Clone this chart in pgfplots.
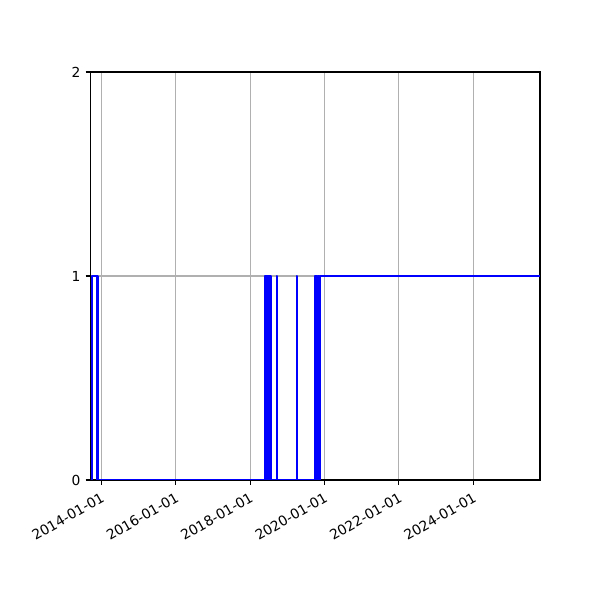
\documentclass[border=0pt]{standalone}
\usepackage{fontspec}
\setmainfont{DejaVu Sans}
\usepackage{pgfplots}
\pgfplotsset{compat=1.18}
\usepackage{pgfplotstable}
\usepgfplotslibrary{dateplot}
\definecolor{gridgray}{HTML}{B0B0B0}
\definecolor{mplblue}{HTML}{0000FF}

% change points: the value holds until the next date
\pgfplotstableread{
date value
2013-09-17 0
2013-09-29 1
2013-11-25 0
2018-05-24 1
2018-05-26 0
2018-05-28 1
2018-05-30 0
2018-06-01 1
2018-06-03 0
2018-06-05 1
2018-06-08 0
2018-06-10 1
2018-06-13 0
2018-06-15 1
2018-06-18 0
2018-06-20 1
2018-06-23 0
2018-06-25 1
2018-06-28 0
2018-06-30 1
2018-07-03 0
2018-07-05 1
2018-07-08 0
2018-07-10 1
2018-07-13 0
2018-07-15 1
2018-07-18 0
2018-07-20 1
2018-07-22 0
2018-09-21 1
2018-09-22 0
2019-04-03 1
2019-04-04 0
2019-10-03 1
2019-10-06 0
2019-10-09 1
2019-10-12 0
2019-10-15 1
2019-10-18 0
2019-10-21 1
2019-10-24 0
2019-10-27 1
2019-10-30 0
2019-11-02 1
2019-11-05 0
2019-11-08 1
2019-11-11 0
2019-11-14 1
2019-11-16 0
2019-11-18 1
2025-10-17 1
}\series

\begin{document}
\begin{tikzpicture}
\path[use as bounding box] (0,0) rectangle (6in,6in);
\begin{axis}[
  at={(0.905in,1.2in)}, anchor=south west,
  scale only axis, width=4.495in, height=4.08in,
  date coordinates in=x, date ZERO=2013-01-01,
  xmin=2013-09-17, xmax=2025-10-17,
  ymin=0, ymax=2,
  xtick={2014-01-01,2016-01-01,2018-01-01,2020-01-01,2022-01-01,2024-01-01},
  xticklabel={\year-\month-\day},
  ytick={0,1,2},
  xtick pos=bottom, ytick pos=left,
  tick align=outside,
  major tick length=3.5pt,
  major tick style={black, line width=0.8pt},
  axis line style={line width=0.8pt},
  xmajorgrids, ymajorgrids,
  grid style={gridgray, line width=0.8pt},
  /pgf/number format/assume math mode=true,
  tick label style={font=\fontsize{10}{12}\selectfont},
  xticklabel style={yshift=-2pt, rotate=30, anchor=north east, inner sep=2pt},
  yticklabel style={inner sep=3.5pt},
]
\addplot[mplblue, line width=1.5pt, line join=round, const plot] table[x=date, y=value] {\series};
\end{axis}
\end{tikzpicture}
\end{document}
